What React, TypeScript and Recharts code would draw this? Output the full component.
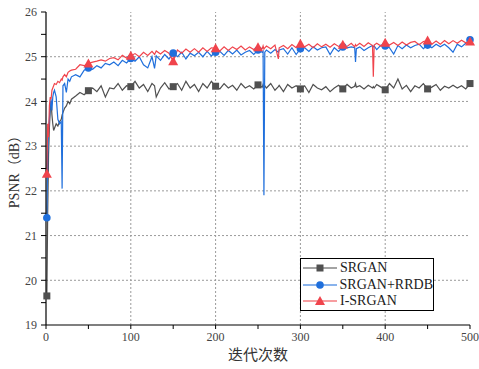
import { LineChart, Line, XAxis, YAxis, ReferenceLine } from "recharts";

// epochs sampled from the training curves (denser at the start and around spikes)
const epochs = [
  1, 2, 3, 4, 5, 6, 7, 8, 9, 10,
  12, 14, 16, 18, 19, 20, 22, 24, 26, 28,
  30, 35, 40, 45, 50, 55, 60, 65, 70, 75,
  80, 85, 90, 95, 100, 105, 110, 115, 120, 125,
  128, 130, 135, 140, 145, 150, 155, 160, 165, 170,
  175, 180, 185, 190, 195, 200, 205, 210, 215, 220,
  225, 230, 235, 240, 245, 250, 255, 256, 257, 258,
  260, 265, 270, 274, 275, 280, 285, 290, 295, 300,
  305, 310, 315, 320, 325, 330, 335, 340, 345, 350,
  355, 360, 364, 365, 366, 370, 375, 380, 385, 386,
  387, 390, 395, 400, 405, 410, 415, 420, 425, 430,
  435, 440, 445, 450, 455, 460, 465, 470, 475, 480,
  485, 490, 495, 500,
];

const srgan = [
  19.65, 21.5, 22.8, 23.4, 23.8, 24.0, 23.7, 23.5, 23.35, 23.4,
  23.5, 23.45, 23.55, 23.6, 23.7, 23.75, 23.85, 23.9, 24.0, 23.95,
  24.05, 24.12, 24.2, 24.15, 24.24, 24.3, 24.22, 24.35, 24.1, 24.3,
  24.28, 24.4, 24.25, 24.35, 24.33, 24.45, 24.3, 24.38, 24.22, 24.4,
  24.35, 24.1, 24.3, 24.42, 24.28, 24.33, 24.4, 24.25, 24.45, 24.3,
  24.38, 24.22, 24.4, 24.3, 24.45, 24.34, 24.28, 24.4, 24.3, 24.36,
  24.25, 24.4, 24.3, 24.35, 24.28, 24.37, 24.32, 24.38, 24.3, 24.35,
  24.3, 24.4, 24.25, 24.33, 24.36, 24.22, 24.38, 24.3, 24.35, 24.28,
  24.35, 24.2, 24.38, 24.3, 24.26, 24.33, 24.22, 24.3, 24.36, 24.28,
  24.38, 24.3, 24.34, 24.4, 24.32, 24.35, 24.28, 24.36, 24.3, 24.33,
  24.3, 24.38, 24.32, 24.26, 24.4, 24.3, 24.5, 24.28, 24.36, 24.22,
  24.35, 24.3, 24.4, 24.28, 24.32, 24.38, 24.25, 24.34, 24.3, 24.36,
  24.3, 24.35, 24.28, 24.4,
];

const srganRrdb = [
  21.4, 22.8, 23.4, 23.6, 23.9, 24.05, 23.8, 24.1, 24.2, 24.25,
  24.1, 23.6, 23.5, 23.55, 22.05, 24.35, 24.4, 24.2, 24.5, 24.45,
  24.55, 24.6, 24.55, 24.7, 24.75, 24.72, 24.8, 24.75, 24.85, 24.82,
  24.88, 24.8, 24.92, 24.86, 24.96, 24.9, 25.0, 24.82, 24.75, 25.0,
  24.74, 25.02, 24.92, 25.05, 24.95, 25.08, 25.0, 25.1, 24.95, 25.08,
  25.02, 25.1, 25.0, 25.12, 25.02, 25.1, 25.12, 25.03, 25.14, 25.06,
  25.15, 25.04, 25.1, 25.14, 25.05, 25.15, 25.1, 25.12, 21.9, 25.1,
  25.15, 25.08, 25.16, 25.1, 25.15, 25.18, 25.06, 25.2, 25.05, 25.18,
  25.2, 25.12, 25.22, 25.15, 25.2, 25.22, 25.05, 25.2, 25.12, 25.22,
  25.2, 25.22, 25.2, 24.88, 25.18, 25.22, 25.14, 25.2, 25.25, 25.22,
  25.24, 25.16, 25.26, 25.24, 25.2, 25.06, 25.25, 25.18, 25.26, 25.2,
  25.25, 25.28, 25.18, 25.26, 25.2, 25.28, 25.22, 25.28, 25.2, 25.1,
  25.28, 25.22, 25.3, 25.38,
];

const iSrgan = [
  22.38, 23.5, 23.2, 23.9, 24.1, 24.05, 24.25, 24.3, 24.35, 24.4,
  24.38, 24.45, 24.42, 24.5, 24.48, 24.55, 24.6, 24.55, 24.65, 24.68,
  24.7, 24.72, 24.82, 24.8, 24.85, 24.88, 24.9, 24.93, 24.9, 24.96,
  24.98, 24.93, 25.03, 24.97, 25.02, 25.07, 25.0, 25.1, 25.03, 25.12,
  25.05, 25.13, 25.06, 25.14, 25.08, 24.9, 25.15, 25.08, 25.17, 25.1,
  25.18, 25.1, 25.2, 25.12, 25.2, 25.19, 25.13, 25.22, 25.14, 25.22,
  25.16, 25.24, 25.15, 25.22, 25.16, 25.21, 25.18, 25.24, 25.17, 25.2,
  25.24, 25.18, 25.26, 24.95, 25.2, 25.25, 25.18, 25.27, 25.2, 25.29,
  25.22, 25.28, 25.2, 25.29, 25.22, 25.28, 25.21, 25.29, 25.23, 25.27,
  25.23, 25.3, 25.22, 25.27, 25.24, 25.3, 25.23, 25.31, 25.25, 24.55,
  25.26, 25.3, 25.24, 25.31, 25.26, 25.32, 25.25, 25.33, 25.26, 25.32,
  25.34, 25.27, 25.34, 25.36, 25.28, 25.35, 25.28, 25.36, 25.29, 25.36,
  25.3, 25.37, 25.31, 25.34,
];

const markerEpochs = [1, 50, 100, 150, 200, 250, 300, 350, 400, 450, 500];
const xTicks = [0, 50, 100, 150, 200, 250, 300, 350, 400, 450, 500];
const yTicks = [19, 19.5, 20, 20.5, 21, 21.5, 22, 22.5, 23, 23.5, 24, 24.5, 25, 25.5, 26];
const gridX = [100, 200, 300, 400];
const gridY = [20, 21, 22, 23, 24, 25];

const data = epochs.map((epoch, i) => ({
  epoch,
  srgan: srgan[i],
  rrdb: srganRrdb[i],
  isrgan: iSrgan[i],
}));

const FONT = '"Liberation Serif", "Noto Sans CJK SC", serif';
const GRAY = "#505050";
const BLUE = "#1f6fdc";
const RED = "#f0444c";

type Shape = "square" | "circle" | "triangle";

function Marker({ cx, cy, shape, color }: { cx: number; cy: number; shape: Shape; color: string }) {
  if (shape === "square") return <rect x={cx - 3.5} y={cy - 3.5} width={7} height={7} fill={color} />;
  if (shape === "circle") return <circle cx={cx} cy={cy} r={3.8} fill={color} />;
  return <polygon points={`${cx},${cy - 5} ${cx - 5},${cy + 4} ${cx + 5},${cy + 4}`} fill={color} />;
}

const markerDot = (shape: Shape, color: string) => (props: any) => {
  const { cx, cy, payload, index } = props;
  if (!markerEpochs.includes(payload.epoch)) return <g key={index} />;
  return <Marker key={index} cx={cx} cy={cy} shape={shape} color={color} />;
};

const legendItems: { name: string; color: string; shape: Shape }[] = [
  { name: "SRGAN", color: GRAY, shape: "square" },
  { name: "SRGAN+RRDB", color: BLUE, shape: "circle" },
  { name: "I-SRGAN", color: RED, shape: "triangle" },
];

function LegendBox() {
  return (
    <div
      style={{
        position: "absolute",
        left: 300,
        top: 258,
        width: 134,
        height: 53,
        border: "1px solid #000",
        background: "#fff",
        boxSizing: "border-box",
        fontFamily: FONT,
        fontSize: 14,
        color: "#222",
        padding: "1px 0 0 2px",
      }}
    >
      {legendItems.map((it) => (
        <div key={it.name} style={{ display: "flex", alignItems: "center", height: 16.5 }}>
          <svg width={34} height={12} style={{ marginRight: 3 }}>
            <line x1={0} y1={6} x2={34} y2={6} stroke={it.color} strokeOpacity={0.7} strokeWidth={1.5} />
            <Marker cx={17} cy={6} shape={it.shape} color={it.color} />
          </svg>
          <span>{it.name}</span>
        </div>
      ))}
    </div>
  );
}

// y-axis title sits near the left edge of the picture, centred on the plot height
const YTitle = (props: any) => {
  const vb = props.viewBox || {};
  const cy = vb.y + vb.height / 2;
  return (
    <text x={14} y={cy} transform={`rotate(-90 14 ${cy})`} textAnchor="middle" dominantBaseline="central" fill="#333" fontSize={14} fontFamily={FONT}>
      PSNR（dB）
    </text>
  );
};

// x-axis title centred under the plot
const XTitle = (props: any) => {
  const vb = props.viewBox || {};
  const cx = vb.x + vb.width / 2;
  return (
    <text x={cx} y={355} textAnchor="middle" dominantBaseline="central" fill="#333" fontSize={15} fontFamily={FONT}>
      迭代次数
    </text>
  );
};

export default function App() {
  const tickStyle = { fill: "#444", fontSize: 12, fontFamily: FONT };
  return (
    <div style={{ position: "relative", width: 479, height: 369, background: "#fff" }}>
      <style>{"body{margin:0} .recharts-surface{overflow:visible}"}</style>
      <LineChart width={479} height={369} data={data} margin={{ top: 12, right: 9, bottom: 0, left: 0 }}>
        {gridY.map((v) => (
          <ReferenceLine key={`y${v}`} y={v} stroke="#9a9a9a" strokeDasharray="2 2" strokeWidth={1} />
        ))}
        {gridX.map((v) => (
          <ReferenceLine key={`x${v}`} x={v} stroke="#9a9a9a" strokeDasharray="2 2" strokeWidth={1} />
        ))}
        <XAxis
          dataKey="epoch"
          type="number"
          domain={[0, 500]}
          ticks={xTicks}
          tickFormatter={(v: number) => (v % 100 === 0 ? String(v) : "")}
          interval={0}
          height={44}
          tickSize={4}
          tickMargin={3}
          tick={tickStyle}
          axisLine={{ stroke: "#000", strokeWidth: 1.2 }}
          tickLine={{ stroke: "#000" }}
          label={<XTitle />}
        />
        <YAxis
          type="number"
          domain={[19, 26]}
          ticks={yTicks}
          tickFormatter={(v: number) => (Number.isInteger(v) ? String(v) : "")}
          interval={0}
          width={46}
          tickSize={5}
          tickMargin={4}
          tick={tickStyle}
          axisLine={{ stroke: "#000", strokeWidth: 1.2 }}
          tickLine={{ stroke: "#000" }}
          label={<YTitle />}
        />
        <Line type="linear" dataKey="srgan" stroke={GRAY} strokeWidth={1.2} dot={markerDot("square", GRAY)} isAnimationActive={false} />
        <Line type="linear" dataKey="rrdb" stroke={BLUE} strokeWidth={1.2} dot={markerDot("circle", BLUE)} isAnimationActive={false} />
        <Line type="linear" dataKey="isrgan" stroke={RED} strokeWidth={1.2} dot={markerDot("triangle", RED)} isAnimationActive={false} />
      </LineChart>
      <LegendBox />
    </div>
  );
}
